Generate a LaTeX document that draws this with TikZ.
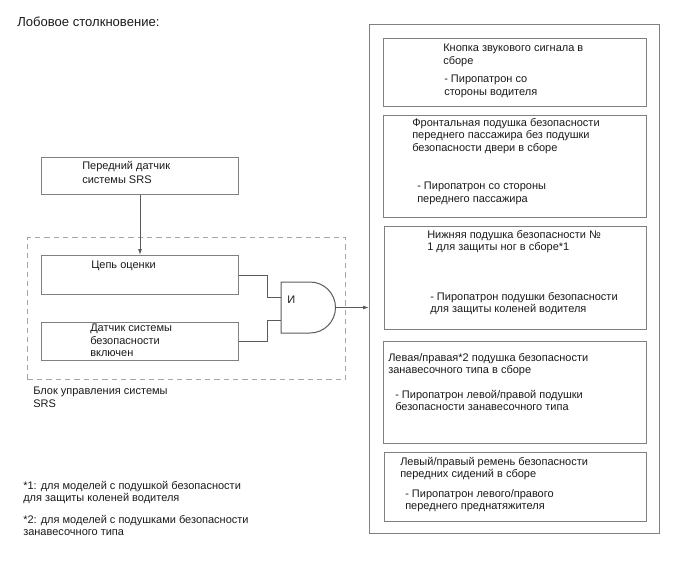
\documentclass[tikz,border=0pt]{standalone}
\usepackage{fontspec}
\setmainfont{Liberation Sans}
\usetikzlibrary{arrows.meta}
\definecolor{boxgray}{HTML}{808080}
\definecolor{dashgray}{HTML}{A6A6A6}
\definecolor{wiregray}{HTML}{5A5A5A}
\definecolor{txtcol}{HTML}{1A1A1A}
\begin{document}
\begin{tikzpicture}[x=0.75pt,y=-0.75pt,
  bx/.style={draw=boxgray, line width=0.75pt, inner sep=0pt, anchor=north west},
  dbx/.style={draw=dashgray, line width=0.75pt, dash pattern=on 4pt off 3pt, inner sep=0pt, anchor=north west},
  txt/.style={anchor=north west, inner sep=0pt, align=left, text=txtcol, font=\fontsize{8.25}{9.4}\selectfont},
  wire/.style={draw=wiregray, line width=0.75pt},
  arr/.style={draw=wiregray, line width=0.75pt, -{Latex[length=4.5pt,width=3pt]}}]
\useasboundingbox (0,0) rectangle (688,560);

\node[txt, font=\fontsize{9.8}{11}\selectfont] (title) at (17,17) {Лобовое столкновение:};

% left side
\node[bx, minimum width=197*0.75pt, minimum height=37*0.75pt] (sensor) at (41,157) {};
\node[txt, font=\fontsize{8.25}{10.6}\selectfont] (sensortxt) at (82,161) {Передний датчик\\системы SRS};
\node[dbx, minimum width=318*0.75pt, minimum height=142*0.75pt] (ecu) at (27,237) {};
\node[bx, minimum width=197*0.75pt, minimum height=39*0.75pt] (eval) at (41,255) {};
\node[txt] (evaltxt) at (91,261) {Цепь оценки};
\node[bx, minimum width=197*0.75pt, minimum height=38*0.75pt] (sw) at (41,322) {};
\node[txt] (swtxt) at (90,324) {Датчик системы\\безопасности\\включен};
\node[txt] (ecutxt) at (33,387) {Блок управления системы\\SRS};

% AND gate
\draw[wire] (281,282) -- (310,282) arc (-90:90:25.5) -- (281,333) -- cycle;
\coordinate (gin1) at (281,297);
\coordinate (gin2) at (281,320);
\coordinate (gout) at (335.5,307.5);
\node[txt] (andtxt) at (287,296) {И};

\draw[arr] (sensor.south) -- (eval.north);
\draw[wire] (eval.east) -- ++(28,0) |- (gin1);
\draw[wire] (sw.east) -- ++(28,0) |- (gin2);

% right side
\node[bx, minimum width=290*0.75pt, minimum height=509*0.75pt] (outer) at (369,24) {};
\node[bx, minimum width=263*0.75pt, minimum height=68*0.75pt] (b1) at (383,38) {};
\node[txt] (b1a) at (443,44) {Кнопка звукового сигнала в\\сборе};
\node[txt] (b1b) at (444,75) {- Пиропатрон со\\стороны водителя};
\node[bx, minimum width=263*0.75pt, minimum height=102*0.75pt] (b2) at (383,115) {};
\node[txt] (b2a) at (412,118) {Фронтальная подушка безопасности\\переднего пассажира без подушки\\безопасности двери в сборе};
\node[txt] (b2b) at (417,182) {- Пиропатрон со стороны\\переднего пассажира};
\node[bx, minimum width=262*0.75pt, minimum height=103*0.75pt] (b3) at (384,226) {};
\node[txt] (b3a) at (427,230) {Нижняя подушка безопасности №\\1 для защиты ног в сборе*1};
\node[txt] (b3b) at (430,292) {- Пиропатрон подушки безопасности\\для защиты коленей водителя};
\node[bx, minimum width=263*0.75pt, minimum height=102*0.75pt] (b4) at (383,341) {};
\node[txt] (b4a) at (388,353) {Левая/правая*2 подушка безопасности\\занавесочного типа в сборе};
\node[txt] (b4b) at (395,390) {- Пиропатрон левой/правой подушки\\безопасности занавесочного типа};
\node[bx, minimum width=262*0.75pt, minimum height=69*0.75pt] (b5) at (384,452) {};
\node[txt] (b5a) at (400,457) {Левый/правый ремень безопасности\\передних сидений в сборе};
\node[txt] (b5b) at (405,489) {- Пиропатрон левого/правого\\переднего преднатяжителя};

\draw[arr] (gout) -- (gout -| outer.west);

% footnotes
\node[txt] (fn1) at (23,481) {*1: для моделей с подушкой безопасности\\для защиты коленей водителя};
\node[txt] (fn2) at (23,515) {*2: для моделей с подушками безопасности\\занавесочного типа};
\end{tikzpicture}
\end{document}
